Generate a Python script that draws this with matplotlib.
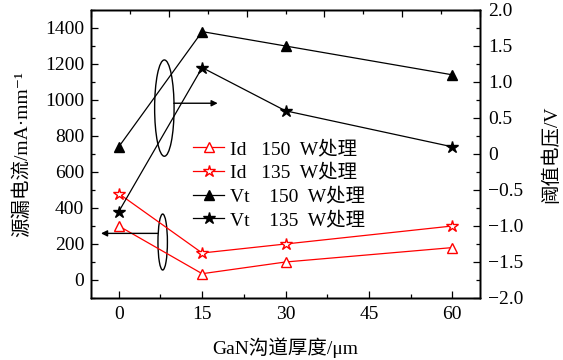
import matplotlib
matplotlib.use("Agg")
import matplotlib.pyplot as plt
from matplotlib.patches import Ellipse
from matplotlib.ticker import MultipleLocator

plt.rcParams["font.family"] = ["Liberation Serif", "Noto Sans CJK SC", "DejaVu Serif"]
plt.rcParams["axes.unicode_minus"] = True

# data
thickness = [0, 15, 30, 60]
id_150 = [300, 35, 100, 180]
id_135 = [480, 150, 200, 300]
vt_150 = [0.1, 1.70, 1.50, 1.10]
vt_135 = [-0.8, 1.20, 0.60, 0.10]

x_ticks = [0, 15, 30, 45, 60]
left_ticks = [0, 200, 400, 600, 800, 1000, 1200, 1400]
right_ticks = [2.0, 1.5, 1.0, 0.5, 0, -0.5, -1.0, -1.5, -2.0]
right_labels = ["2.0", "1.5", "1.0", "0.5", "0", "\u22120.5", "\u22121.0", "\u22121.5", "\u22122.0"]

FS = 14

fig = plt.figure(figsize=(5.63, 3.6), dpi=100)
ax = fig.add_axes([91 / 563, 1 - 298 / 360, 389 / 563, 288 / 360])
ax2 = ax.twinx()
ax3 = ax.twiny()

l1, = ax.plot(thickness, id_150, color="red", lw=0.9, marker="^", ms=7,
              mfc="white", mec="red", mew=1.0, label="Id   150  W处理")
l2, = ax.plot(thickness, id_135, color="red", lw=0.9, marker="*", ms=9,
              mfc="white", mec="red", mew=1.0, label="Id   135  W处理")
l3, = ax2.plot(thickness, vt_150, color="black", lw=0.9, marker="^", ms=7,
               mfc="black", mec="black", label="Vt    150  W处理")
l4, = ax2.plot(thickness, vt_135, color="black", lw=0.9, marker="*", ms=9,
               mfc="black", mec="black", label="Vt    135  W处理")

ax.set_xlim(-5, 65)
ax.set_ylim(-100, 1500)
ax2.set_ylim(-2.0, 2.0)
ax3.set_xlim(0, 10)

ax.set_xticks(x_ticks)
ax.xaxis.set_minor_locator(MultipleLocator(7.5))
ax.set_yticks(left_ticks)
ax.yaxis.set_minor_locator(MultipleLocator(100))
ax2.set_yticks(right_ticks)
ax2.set_yticklabels(right_labels)
ax2.yaxis.set_minor_locator(MultipleLocator(0.25))
ax3.xaxis.set_major_locator(MultipleLocator(2))
ax3.xaxis.set_minor_locator(MultipleLocator(1))
ax3.set_xticklabels([])

for a in (ax, ax2, ax3):
    a.tick_params(which="both", direction="in", labelsize=FS, width=0.9)
    a.tick_params(which="major", length=5)
    a.tick_params(which="minor", length=3)
    for s in a.spines.values():
        s.set_linewidth(1.0)
ax.tick_params(axis="y", right=False, pad=5)
ax.tick_params(axis="x", top=False, pad=6)
ax2.tick_params(axis="y", pad=6)

ax.set_xlabel("GaN沟道厚度/μm", fontsize=FS)
ax.set_ylabel("源漏电流/mA·mm\u207b\u00b9", fontsize=FS)
ax2.set_ylabel("阈值电压/V", fontsize=FS)
ax.xaxis.set_label_coords(0.5, -0.135)
ax.yaxis.set_label_coords(-0.155, 0.5)
ax2.yaxis.set_label_coords(1.16, 0.5)

# group markers: ellipses with arrows pointing to the relevant axis
ax.add_patch(Ellipse((8.2, 955), 3.5, 535, fill=False, lw=1.0, ec="black"))
ax.annotate("", xy=(17.8, 982), xytext=(9.9, 982),
            arrowprops=dict(arrowstyle="-|>", color="black", lw=1.0,
                            mutation_scale=9, shrinkA=0, shrinkB=0))
ax.add_patch(Ellipse((7.9, 211), 1.7, 311, fill=False, lw=1.0, ec="black"))
ax.annotate("", xy=(-3.2, 259), xytext=(7.0, 259),
            arrowprops=dict(arrowstyle="-|>", color="black", lw=1.0,
                            mutation_scale=9, shrinkA=0, shrinkB=0))

ax2.legend(handles=[l1, l2, l3, l4], loc="upper left",
           bbox_to_anchor=(193 / 563, 1 - 140 / 360),
           bbox_transform=fig.transFigure, frameon=False, fontsize=FS,
           borderpad=0, borderaxespad=0, handlelength=1.6,
           handletextpad=0.3, labelspacing=0.3)

fig.savefig("out.png", dpi=100)
